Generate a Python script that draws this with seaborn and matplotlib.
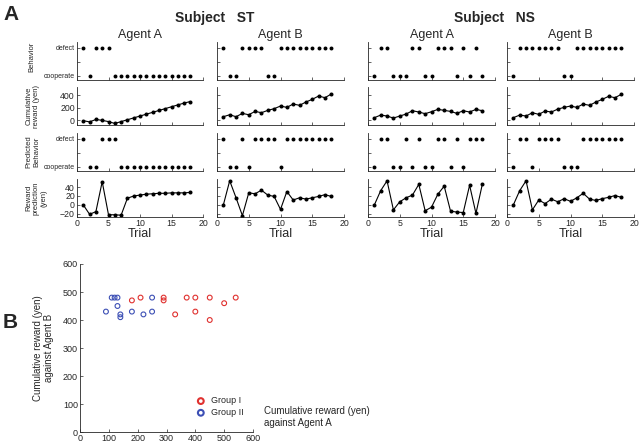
import matplotlib
matplotlib.use("Agg")
import matplotlib.pyplot as plt
import pandas as pd
import seaborn as sns

trials = list(range(1, 19))

# behavior rows: 1 = defect, 0 = cooperate
st_a_behavior = [1, 0, 1, 1, 1, 0, 0, 0, 0, 0, 0, 0, 0, 0, 0, 0, 0, 0]
st_b_behavior = [1, 0, 0, 1, 1, 1, 1, 0, 0, 1, 1, 1, 1, 1, 1, 1, 1, 1]
ns_a_behavior = [0, 1, 1, 0, 0, 0, 1, 1, 0, 0, 1, 1, 1, 0, 1, 0, 1, 0]
ns_b_behavior = [0, 1, 1, 1, 1, 1, 1, 1, 0, 0, 1, 1, 1, 1, 1, 1, 1, 1]

st_a_predicted = [1, 0, 0, 1, 1, 1, 0, 0, 0, 0, 0, 0, 0, 0, 0, 0, 0, 0]
st_b_predicted = [1, 0, 0, 1, 0, 1, 1, 1, 1, 0, 1, 1, 1, 1, 1, 1, 1, 1]
ns_a_predicted = [0, 1, 1, 0, 0, 1, 0, 1, 0, 0, 1, 1, 0, 1, 0, 1, 1, 1]
ns_b_predicted = [0, 1, 1, 0, 1, 1, 1, 1, 0, 0, 0, 1, 1, 1, 1, 1, 1, 1]

st_a_cumulative = [-10, -30, 10, -5, -25, -55, -25, 5, 35, 65, 95, 125, 155, 185, 215, 245, 275, 300]
st_b_cumulative = [54, 86, 54, 108, 86, 140, 119, 157, 184, 227, 205, 260, 238, 292, 335, 389, 362, 421]
ns_a_cumulative = [38, 81, 65, 32, 65, 97, 151, 130, 103, 135, 173, 157, 140, 108, 151, 130, 173, 151]
ns_b_cumulative = [38, 81, 65, 119, 92, 146, 130, 178, 205, 227, 205, 259, 238, 292, 335, 384, 362, 416]

st_a_reward_pred = [0, -21, -15, 52, -22, -22, -23, 15, 20, 22, 24, 25, 26, 26, 27, 27, 27, 28]
st_b_reward_pred = [0, 54, 16, -24, 27, 25, 33, 22, 19, -10, 30, 11, 16, 13, 16, 19, 23, 19]
ns_a_reward_pred = [0, 32, 54, -11, 7, 16, 22, 46, -13, -5, 24, 42, -14, -16, -17, 44, -19, 46]
ns_b_reward_pred = [0, 32, 54, -11, 11, 3, 13, 7, 14, 8, 16, 26, 13, 10, 14, 17, 21, 17]

# panel B: cumulative reward against agent A / agent B
group1_vs_a = [180, 210, 290, 290, 370, 400, 450, 540, 500, 330, 400, 450]
group1_vs_b = [470, 480, 480, 470, 480, 480, 480, 480, 460, 420, 430, 400]
group2_vs_a = [110, 120, 130, 130, 90, 140, 140, 180, 220, 250, 250]
group2_vs_b = [480, 480, 480, 450, 430, 420, 410, 430, 420, 430, 480]

columns = [
    ("Agent A", st_a_behavior, st_a_cumulative, st_a_predicted, st_a_reward_pred),
    ("Agent B", st_b_behavior, st_b_cumulative, st_b_predicted, st_b_reward_pred),
    ("Agent A", ns_a_behavior, ns_a_cumulative, ns_a_predicted, ns_a_reward_pred),
    ("Agent B", ns_b_behavior, ns_b_cumulative, ns_b_predicted, ns_b_reward_pred),
]

sns.set_style("ticks")
plt.rcParams["font.family"] = ["Liberation Sans", "DejaVu Sans"]
plt.rcParams["xtick.direction"] = "in"
plt.rcParams["ytick.direction"] = "in"
plt.rcParams["axes.linewidth"] = 0.6
plt.rcParams["xtick.major.width"] = 0.5
plt.rcParams["ytick.major.width"] = 0.5
plt.rcParams["xtick.major.size"] = 2
plt.rcParams["ytick.major.size"] = 2

W, H = 640, 442
fig = plt.figure(figsize=(6.4, 4.42), dpi=100)

col_x = [(77, 203), (217, 344), (368, 495), (507, 634)]
row_y = [(42, 80), (87, 125), (133, 171), (179, 217)]


def box(x0, x1, y0, y1):
    return [x0 / W, 1 - y1 / H, (x1 - x0) / W, (y1 - y0) / H]


def style_axis(ax, show_y, show_x):
    sns.despine(ax=ax)
    ax.set_xlim(0, 20)
    ax.set_xticks([0, 5, 10, 15, 20])
    ax.tick_params(labelsize=6.3, pad=1.5)
    if not show_x:
        ax.set_xticklabels([])
    if not show_y:
        ax.set_yticklabels([])
    ax.set_xlabel("")
    ax.set_ylabel("")


for ci, (agent, behavior, cumulative, predicted, reward_pred) in enumerate(columns):
    x0, x1 = col_x[ci]
    show_y = ci == 0

    for ri, values in enumerate([behavior, predicted]):
        r = 0 if ri == 0 else 2
        ax = fig.add_axes(box(x0, x1, *row_y[r]))
        sns.scatterplot(x=trials, y=values, ax=ax, color="black", s=8,
                        edgecolor="black", linewidth=0)
        ax.set_ylim(-0.15, 1.2)
        ax.set_yticks([0, 0.5, 1])
        style_axis(ax, show_y, False)
        if show_y:
            ax.set_yticklabels(["cooperate", "", "defect"], fontsize=5)
        if r == 0:
            ax.set_title(agent, fontsize=9, pad=3)

    ax = fig.add_axes(box(x0, x1, *row_y[1]))
    sns.lineplot(x=trials, y=cumulative, ax=ax, color="black", marker="o",
                 markersize=2.9, markeredgewidth=0, linewidth=0.8)
    ax.set_ylim(-80, 535)
    ax.set_yticks([0, 200, 400])
    style_axis(ax, show_y, False)

    ax = fig.add_axes(box(x0, x1, *row_y[3]))
    sns.lineplot(x=trials, y=reward_pred, ax=ax, color="black", marker="o",
                 markersize=2.9, markeredgewidth=0, linewidth=0.8)
    ax.set_ylim(-27, 58)
    ax.set_yticks([-20, 0, 20, 40])
    style_axis(ax, show_y, True)
    ax.set_xlabel("Trial", fontsize=9, labelpad=0)

row_labels = [
    (57, "Behavior"),
    (106, "Cumulative\nreward (yen)"),
    (152, "Predicted\nBehavior"),
    (198, "Reward\nprediction\n(yen)"),
]
row_label_x = [32, 33, 33, 36]
for (yc, label), xc in zip(row_labels, row_label_x):
    fig.text(xc / W, 1 - yc / H, label, rotation=90, fontsize=5.5,
             ha="center", va="center", linespacing=1.1)

fig.text(3 / W, 1 - 15 / H, "A", fontsize=15, fontweight="bold", va="center")
fig.text(3 / W, 1 - 322 / H, "B", fontsize=15, fontweight="bold", va="center")
fig.text(215 / W, 1 - 18 / H, "Subject   ST", fontsize=10, fontweight="bold",
         ha="center", va="center")
fig.text(494 / W, 1 - 18 / H, "Subject   NS", fontsize=10, fontweight="bold",
         ha="center", va="center")

# panel B
ax = fig.add_axes(box(80, 253, 264, 432))
sns.scatterplot(x=group1_vs_a, y=group1_vs_b, ax=ax, marker="o", s=12,
                facecolor="none", edgecolor="#e0312f", linewidth=0.8, label="Group I")
sns.scatterplot(x=group2_vs_a, y=group2_vs_b, ax=ax, marker="o", s=12,
                facecolor="none", edgecolor="#3c4fb5", linewidth=0.8, label="Group II")
sns.despine(ax=ax)
ax.set_xlim(0, 600)
ax.set_ylim(0, 600)
ax.set_xticks(range(0, 601, 100))
ax.set_yticks(range(0, 601, 100))
ax.tick_params(labelsize=6.5, pad=1.5)
ax.set_ylabel("Cumulative reward (yen)\nagainst Agent B", fontsize=7, labelpad=6)
leg = ax.legend(loc="center left", bbox_to_anchor=(0.62, 0.15), frameon=False,
                fontsize=6.5, handletextpad=0.1, labelspacing=0.3, borderpad=0,
                markerscale=1.2)
for handle in leg.legend_handles:
    handle.set_linewidth(1.5)
fig.text(264 / W, 1 - 417 / H, "Cumulative reward (yen)\nagainst Agent A",
         fontsize=7, ha="left", va="center", linespacing=1.2)

fig.savefig("out.png", dpi=100)
plt.close(fig)
